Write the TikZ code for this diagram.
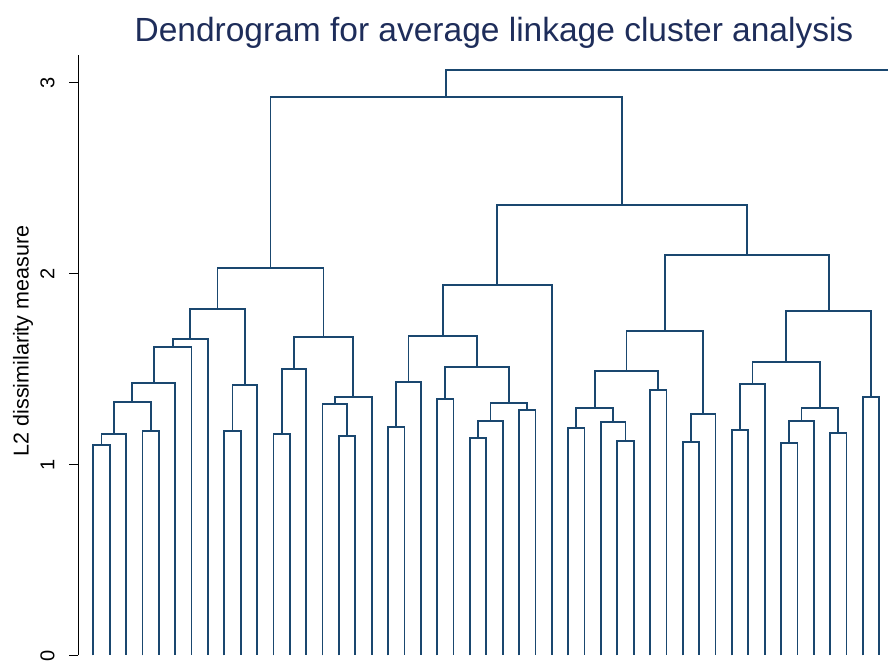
\documentclass[tikz,border=0pt]{standalone}
\usepackage{fontspec}
\setmainfont{Liberation Sans}
\usetikzlibrary{calc}

\definecolor{stnavy}{RGB}{26,71,111}
\definecolor{sttitle}{RGB}{30,45,90}

\begin{document}
\begin{tikzpicture}[x=1pt, y=191pt,
    dendro/.style={draw=stnavy, line width=1.8pt},
    axisline/.style={draw=black, line width=1.3pt},
    ticklab/.style={rotate=90, font=\fontsize{20}{20}\selectfont},
  ]

  \useasboundingbox (0,-0.0445) rectangle (888,3.4319);

  % Title
  \node[anchor=base, text=sttitle, font=\fontsize{33.5}{33.5}\selectfont]
    (title) at (494,3.217) {Dendrogram for average linkage cluster analysis};

  % Vertical axis with ticks
  \coordinate (ybot) at (78.3,0);
  \coordinate (ytop) at (78.3,3.144);
  \draw[axisline] (ybot) -- (ytop);
  \foreach \v in {0,1,2,3} {
    \coordinate (tk\v) at (69,\v);
    \draw[axisline] (tk\v) -- (ybot |- tk\v);
    \node[ticklab] (tl\v) at (47.5,\v) {\v};
  }
  \node[rotate=90, font=\fontsize{21.5}{21.5}\selectfont] (ylab) at (23,1.647)
    {L2 dissimilarity measure};

  % Leaves (49 observations)
  \foreach \i in {0,...,48}
    \coordinate (l\i) at ({93.3+16.375*\i},0);

  % Merges: name / left child / right child / height
  \foreach \n/\a/\b/\h in {
      m1/l0/l1/1.102, m2/m1/l2/1.160, m3/l3/l4/1.175, m4/m2/m3/1.327,
      m5/m4/l5/1.427, m6/m5/l6/1.615, m7/m6/l7/1.657, m8/l8/l9/1.175,
      m9/m8/l10/1.416, m10/m7/m9/1.814, m11/l11/l12/1.160, m12/m11/l13/1.500,
      m13/l15/l16/1.149, m14/l14/m13/1.317, m15/m14/l17/1.353, m16/m12/m15/1.668,
      m17/m10/m16/2.029,
      m18/l18/l19/1.196, m19/m18/l20/1.432, m20/l21/l22/1.343, m21/l23/l24/1.139,
      m22/m21/l25/1.228, m23/l26/l27/1.285, m24/m22/m23/1.322, m25/m20/m24/1.510,
      m26/m19/m25/1.673, m27/m26/l28/1.940,
      m28/l29/l30/1.191, m29/l32/l33/1.123, m30/l31/m29/1.223, m31/m28/m30/1.296,
      m32/l34/l35/1.390, m33/m31/m32/1.490, m34/l36/l37/1.118, m35/m34/l38/1.264,
      m36/m33/m35/1.699, m37/l39/l40/1.181, m38/m37/l41/1.421, m39/l42/l43/1.113,
      m40/m39/l44/1.228, m41/l45/l46/1.165, m42/m40/m41/1.296, m43/m38/m42/1.537,
      m44/l47/l48/1.353, m45/m43/m44/1.804, m46/m36/m45/2.097,
      m47/m27/m46/2.359, m48/m17/m47/2.925} {
    \path ($(\a)!0.5!(\b)$) coordinate (mid);
    \coordinate (\n) at (mid |- 0,\h);
    \draw[dendro] (\a) |- (\n) -| (\b);
  }

  % Top link runs off to the right edge
  \coordinate (root) at (m48 |- 0,3.066);
  \coordinate (rootend) at (888,3.066);
  \draw[dendro] (m48) -- (root) -- (rootend);

\end{tikzpicture}
\end{document}
